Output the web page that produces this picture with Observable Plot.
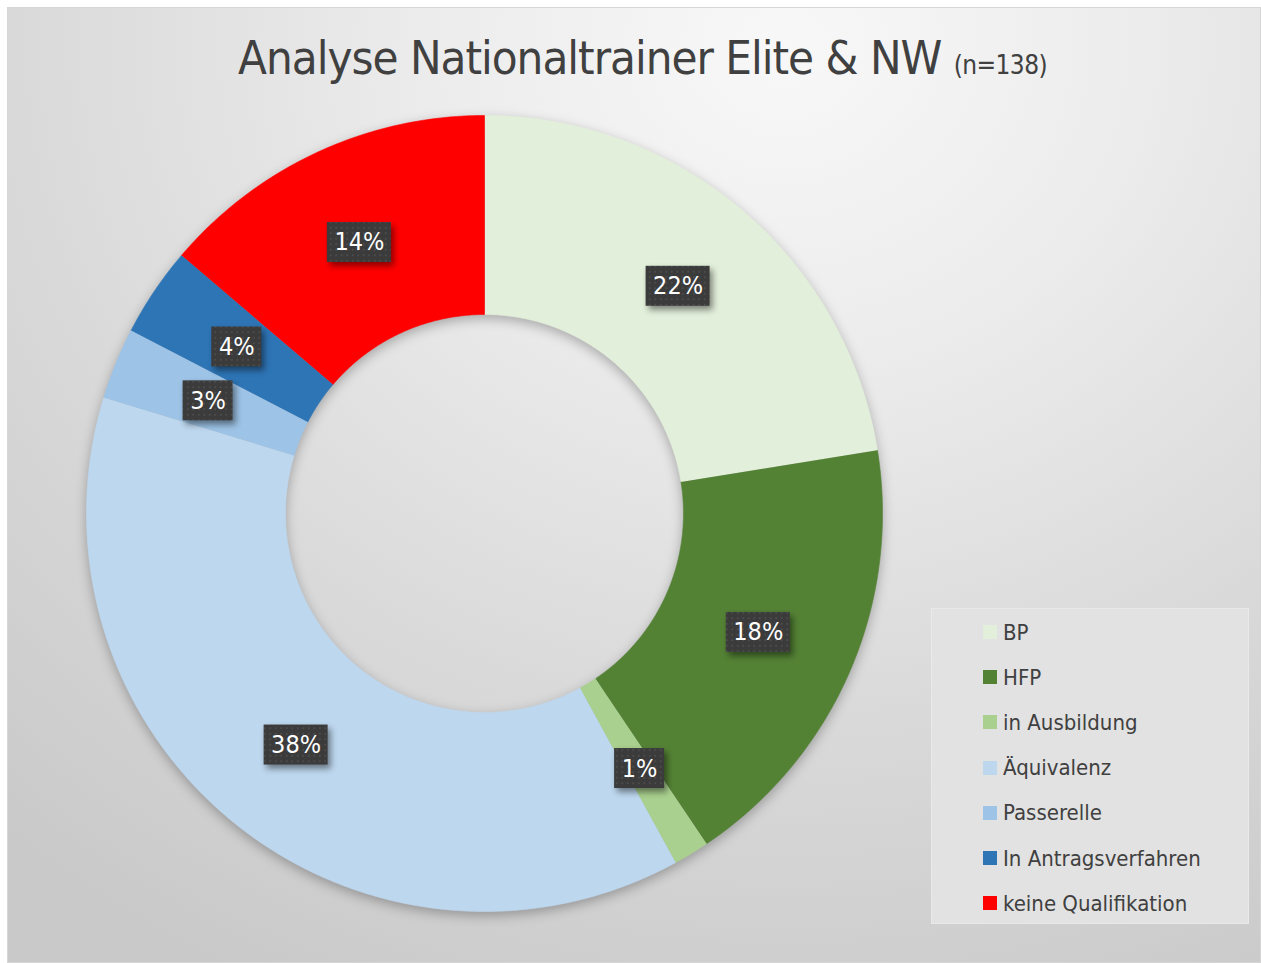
<!DOCTYPE html>
<html>
<head>
<meta charset="utf-8">
<script src="https://cdn.jsdelivr.net/npm/d3@7"></script>
<script src="https://cdn.jsdelivr.net/npm/@observablehq/plot@0.6"></script>
<style>
  html, body { margin: 0; padding: 0; background: #fff; }
  body { width: 1261px; height: 963px; position: relative; overflow: hidden; font-family: "DejaVu Sans Condensed", "DejaVu Sans", sans-serif; }
  #frame {
    position: absolute; left: 7px; top: 7px; width: 1254px; height: 956px; box-sizing: border-box;
    border: 1px solid #d6d6d6;
    background: radial-gradient(ellipse 95% 110% at 62% 4%, #f8f8f8 0%, #ececec 30%, #d9d9d9 65%, #c9c9c9 100%);
  }
  #title { position: absolute; left: 0; right: 0; top: 22px; text-align: center; padding-left: 17px; color: #404040; font-size: 47px; white-space: nowrap; letter-spacing: -1px; }
  #title small { font-size: 26px; letter-spacing: -0.6px; }
  #chart { position: absolute; left: 78px; top: 107px; }
  #chart svg { overflow: visible; background: radial-gradient(circle at 50% 50%, #e9e9e9 0%, #e4e4e4 20%, #d6d6d6 24.6%, #c4c4c4 25.2%, transparent 25.5%); border-radius: 50%; }
  #legend { position: absolute; left: 923px; top: 600px; width: 318px; height: 316px; box-sizing: border-box; background: #e2e2e2; border: 1px solid #e9e9e9; }
  .item { position: absolute; left: 51px; height: 24px; display: flex; align-items: center; color: #404040; font-size: 22px; white-space: nowrap; }
  .sw { width: 14px; height: 14px; margin-right: 6px; flex: none; }
</style>
</head>
<body>
<div id="frame">
  <div id="title">Analyse Nationaltrainer Elite &amp; NW <small>(n=138)</small></div>
  <div id="chart"></div>
  <div id="legend"></div>
</div>
<script>
// ---- data ----
const categories = ["BP", "HFP", "in Ausbildung", "Äquivalenz", "Passerelle", "In Antragsverfahren", "keine Qualifikation"];
const counts = [31, 25, 2, 52, 4, 5, 19];
const percentLabels = ["22%", "18%", "1%", "38%", "3%", "4%", "14%"];
const colors = ["#E2EFDA", "#548235", "#A9D08E", "#BDD7EE", "#9DC3E6", "#2E75B6", "#FF0000"];

// ---- build polygon rows for each slice from the pie layout ----
const innerRatio = 0.5;
const arcs = d3.pie().sort(null).value(d => d)(counts);
const rows = [];
const centroids = [];
arcs.forEach((a, i) => {
  const n = Math.max(4, Math.ceil((a.endAngle - a.startAngle) / 0.01));
  for (let k = 0; k <= n; k++) {
    const t = a.startAngle + (a.endAngle - a.startAngle) * k / n;
    rows.push({cat: categories[i], x: Math.sin(t), y: Math.cos(t)});
  }
  for (let k = n; k >= 0; k--) {
    const t = a.startAngle + (a.endAngle - a.startAngle) * k / n;
    rows.push({cat: categories[i], x: innerRatio * Math.sin(t), y: innerRatio * Math.cos(t)});
  }
  const m = (a.startAngle + a.endAngle) / 2, rm = (1 + innerRatio) / 2;
  centroids.push({cat: categories[i], label: percentLabels[i], x: rm * Math.sin(m), y: rm * Math.cos(m)});
});

const size = 796;
const chart = Plot.plot({
  width: size, height: size, margin: 0,
  x: {domain: [-1, 1], axis: null},
  y: {domain: [-1, 1], axis: null},
  color: {domain: categories, range: colors},
  style: {background: "transparent", overflow: "visible"},
  marks: [
    Plot.line(rows, {x: "x", y: "y", z: "cat", fill: "cat", stroke: "cat", strokeWidth: 0.6, curve: "linear"}),
    Plot.rect(centroids.filter(d => d.label.length >= 3), {x1: "x", x2: "x", y1: "y", y2: "y", insetLeft: -32, insetRight: -32, insetTop: -20, insetBottom: -20, fill: "#3c3c3c"}),
    Plot.rect(centroids.filter(d => d.label.length < 3), {x1: "x", x2: "x", y1: "y", y2: "y", insetLeft: -25, insetRight: -25, insetTop: -20, insetBottom: -20, fill: "#3c3c3c"}),
    Plot.text(centroids, {x: "x", y: "y", text: "label", fill: "white", fontSize: 25, fontFamily: "DejaVu Sans Condensed, DejaVu Sans, sans-serif"})
  ]
});

// decorative: dotted pattern + shadows
const svg = d3.select(chart);
const defs = svg.insert("defs", ":first-child");
const pat = defs.append("pattern").attr("id", "dots").attr("width", 5.5).attr("height", 5.5).attr("patternUnits", "userSpaceOnUse");
pat.append("rect").attr("width", 5.5).attr("height", 5.5).attr("fill", "#3b3b3b");
pat.append("circle").attr("cx", 2.75).attr("cy", 2.75).attr("r", 0.9).attr("fill", "#525252");
svg.selectAll("g[aria-label=rect]").attr("fill", "url(#dots)").style("filter", "drop-shadow(3px 4px 3px rgba(0,0,0,0.45))");
svg.selectAll("g[aria-label=line]").style("filter", "drop-shadow(0px 4px 6px rgba(0,0,0,0.28))");
document.getElementById("chart").appendChild(chart);

// legend
const legend = document.getElementById("legend");
categories.forEach((c, i) => {
  const it = document.createElement("div");
  it.className = "item";
  it.style.top = (11 + i * 45.2) + "px";
  it.innerHTML = `<span class="sw" style="background:${colors[i]}"></span><span>${c}</span>`;
  legend.appendChild(it);
});
</script>
</body>
</html>
